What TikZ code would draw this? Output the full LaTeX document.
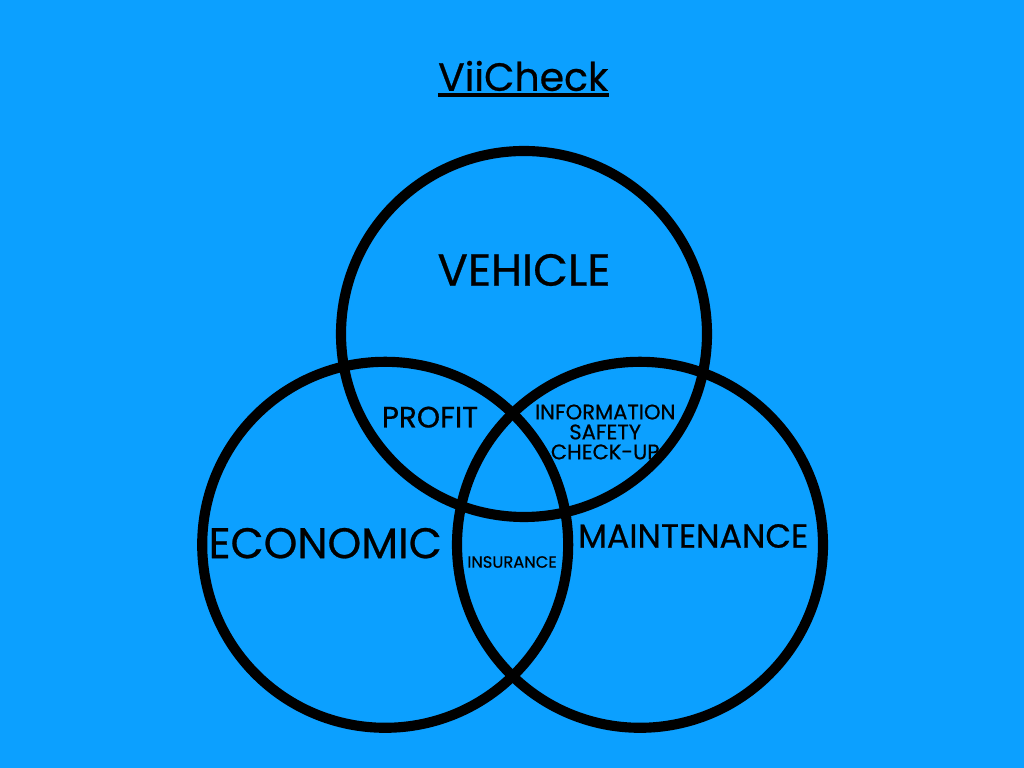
\documentclass[tikz,border=0pt]{standalone}
\usepackage{fontspec}
\setmainfont[FakeBold=0.6]{Poppins}
\usepackage{xcolor}
\usetikzlibrary{positioning}
\definecolor{skyblue}{RGB}{12, 160, 255}

\begin{document}
\begin{tikzpicture}[
    every node/.style={align=center, inner sep=0pt, text=black},
    ring/.style={circle, draw=black, line width=7.2pt, minimum size=9.15cm},
    bigword/.style={font=\fontsize{32}{34}\selectfont},
    midword/.style={font=\fontsize{21}{22}\selectfont},
    smallword/.style={font=\fontsize{15}{14.2}\selectfont},
    tinyword/.style={font=\fontsize{11.6}{12}\selectfont}
]

% Background
\useasboundingbox[fill=skyblue] (0,0) rectangle (25.6,19.2);

% Title
\node[font=\fontsize{28}{30}\selectfont] (title) at (13.08,17.3) {ViiCheck};
\draw[line width=2.8pt] ([yshift=-0.1cm]title.south west) -- ([yshift=-0.1cm]title.south east);

% Circles
\node[ring] (vehicle) at (13.1,10.85) {};
\node[ring] (economic) at (9.63,5.58) {};
\node[ring] (maint) at (16.0,5.58) {};

% Labels
\node[bigword] (vehtext) at (13.1,12.45) {VEHICLE};
\node[bigword, font=\fontsize{30.5}{32}\selectfont] (ecotext) at (8.13,5.62) {ECONOMIC};
\node[midword, font=\fontsize{23.7}{24}\selectfont] (mainttext) at (17.33,5.8) {MAINTENANCE};
\node[midword] (profit) at (10.75,8.77) {PROFIT};
\node[smallword] (info) at (15.13,8.4) {INFORMATION\\SAFETY\\CHECK-UP};
\node[tinyword] (insure) at (12.8,5.15) {INSURANCE};

\end{tikzpicture}
\end{document}
